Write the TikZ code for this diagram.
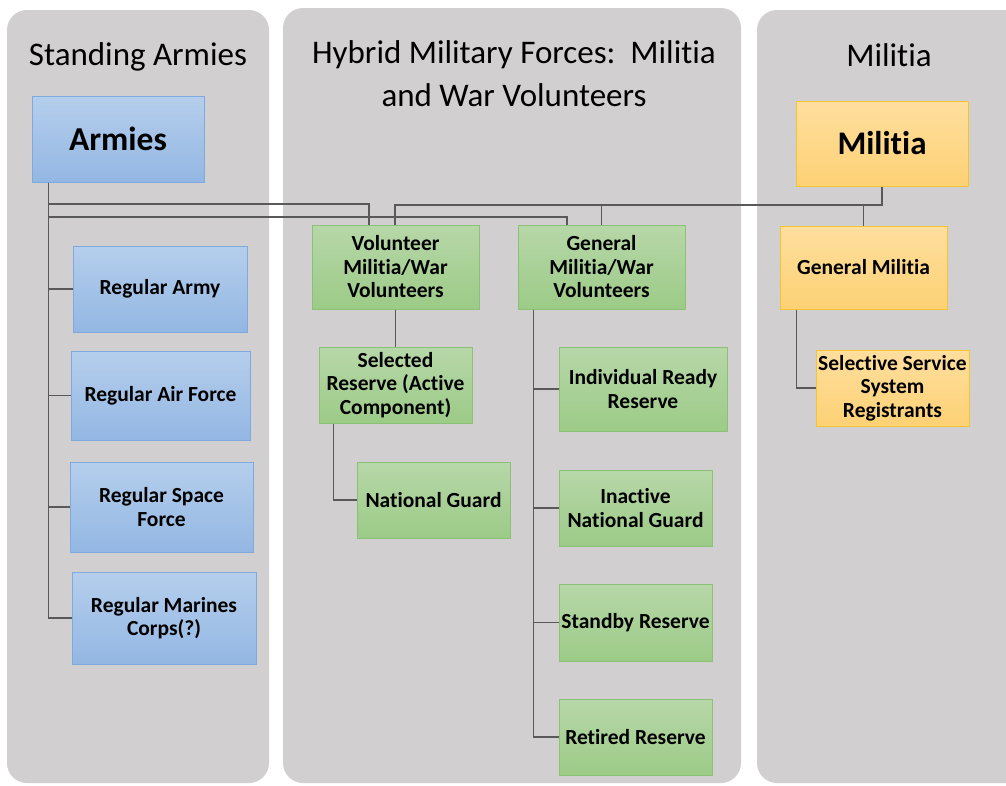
\documentclass[tikz,border=0pt]{standalone}
\usepackage{fontspec}
\setmainfont{Carlito}[Ligatures=NoCommon]
\definecolor{panelgray}{HTML}{D1CFD0}
\definecolor{linegray}{HTML}{595959}
\definecolor{bluetop}{HTML}{B5CEEC}
\definecolor{bluebot}{HTML}{93B7E3}
\definecolor{blueedge}{HTML}{7FAADD}
\definecolor{greentop}{HTML}{B7D7A8}
\definecolor{greenbot}{HTML}{9CCB87}
\definecolor{greenedge}{HTML}{8BC176}
\definecolor{orangetop}{HTML}{FFDF9F}
\definecolor{orangebot}{HTML}{FDD174}
\definecolor{orangeedge}{HTML}{F6C332}
\tikzset{
  panel/.style={fill=panelgray, rounded corners=20pt},
  ptitle/.style={font=\fontsize{33}{40}\selectfont, align=center, inner sep=0pt},
  box/.style={draw, line width=1pt, inner sep=1pt, align=center, font=\bfseries\fontsize{21.5}{23.5}\selectfont},
  bluebox/.style={box, top color=bluetop, bottom color=bluebot, draw=blueedge},
  greenbox/.style={box, top color=greentop, bottom color=greenbot, draw=greenedge},
  orangebox/.style={box, top color=orangetop, bottom color=orangebot, draw=orangeedge},
  conn/.style={draw=linegray, line width=1.3pt},
}
\begin{document}
\begin{tikzpicture}[x=1pt, y=-1pt]
\useasboundingbox (0,0) rectangle (1006,785);
\clip (0,0) rectangle (1006,785);
% panels
\fill[panel] (7,10) rectangle (269,783);
\fill[panel] (283,8) rectangle (741,783);
\fill[panel] (757,10) rectangle (1030,783);
% titles
\node[ptitle] (t1) at (138,57) {Standing Armies};
\node[ptitle] (t2) at (514,55) {Hybrid Military Forces:\ \ Militia};
\node[ptitle] (t2b) at (514,95) {and War Volunteers};
\node[ptitle] (t3) at (889,55) {Militia};
% standing armies
\node[bluebox, minimum width=172pt, minimum height=86pt, font=\bfseries\fontsize{33.5}{38}\selectfont] (armies) at (118,139) {Armies};
\node[bluebox, minimum width=174pt, minimum height=86pt] (regarmy) at (160,289) {Regular Army};
\node[bluebox, minimum width=179pt, minimum height=89pt] (air) at (160.5,395.5) {Regular Air Force};
\node[bluebox, minimum width=183pt, minimum height=90pt] (space) at (161.5,507) {Regular Space\\Force};
\node[bluebox, minimum width=184pt, minimum height=92pt] (marines) at (164,618) {Regular Marines\\Corps(?)};
% hybrid
\node[greenbox, minimum width=167pt, minimum height=84pt] (vol) at (395.5,267) {Volunteer\\Militia/War\\Volunteers};
\node[greenbox, minimum width=167pt, minimum height=84pt] (gen) at (601.5,267) {General\\Militia/War\\Volunteers};
\node[greenbox, minimum width=153pt, minimum height=76pt] (sel) at (395.5,385) {Selected\\Reserve (Active\\Component)};
\node[greenbox, minimum width=153pt, minimum height=76pt] (ng) at (433.5,500) {National Guard};
\node[greenbox, minimum width=168pt, minimum height=84pt] (irr) at (643,389) {Individual Ready\\Reserve};
\node[greenbox, minimum width=153pt, minimum height=76pt] (ing) at (635.5,508) {Inactive\\National Guard};
\node[greenbox, minimum width=153pt, minimum height=77pt] (sby) at (635.5,622.5) {Standby Reserve};
\node[greenbox, minimum width=153pt, minimum height=76pt] (ret) at (635.5,737) {Retired Reserve};
% militia
\node[orangebox, minimum width=172pt, minimum height=85pt, font=\bfseries\fontsize{33}{38}\selectfont] (mil) at (882,143.5) {Militia};
\node[orangebox, minimum width=167pt, minimum height=83pt] (genmil) at (863.5,267.5) {General Militia};
\node[orangebox, minimum width=153pt, minimum height=76pt] (sss) at (892.5,388) {Selective Service\\System\\Registrants};
% connectors
\coordinate (a0) at ([xshift=17pt]armies.south west);
\coordinate (a1) at (369,204);
\coordinate (a2) at (567,217);
\coordinate (m1) at (395,205);
\draw[conn] (a0) |- (regarmy.west);
\draw[conn] (a0) |- (air.west);
\draw[conn] (a0) |- (space.west);
\draw[conn] (a0) |- (marines.west);
\draw[conn] (a0) |- (a1) -- (a1 |- vol.north);
\draw[conn] (a0) |- (a2) -- (a2 |- gen.north);
\draw[conn] (mil.south) |- (m1) -- (m1 |- vol.north);
\draw[conn] (gen.north) -- (gen.north |- m1);
\draw[conn] (genmil.north) -- (genmil.north |- m1);
\draw[conn] (vol.south) -- (sel.north);
\draw[conn] ([xshift=15pt]sel.south west) |- (ng.west);
\coordinate (g0) at ([xshift=16pt]gen.south west);
\draw[conn] (g0) |- (irr.west);
\draw[conn] (g0) |- (ing.west);
\draw[conn] (g0) |- (sby.west);
\draw[conn] (g0) |- (ret.west);
\draw[conn] ([xshift=17pt]genmil.south west) |- (sss.west);
\end{tikzpicture}
\end{document}
